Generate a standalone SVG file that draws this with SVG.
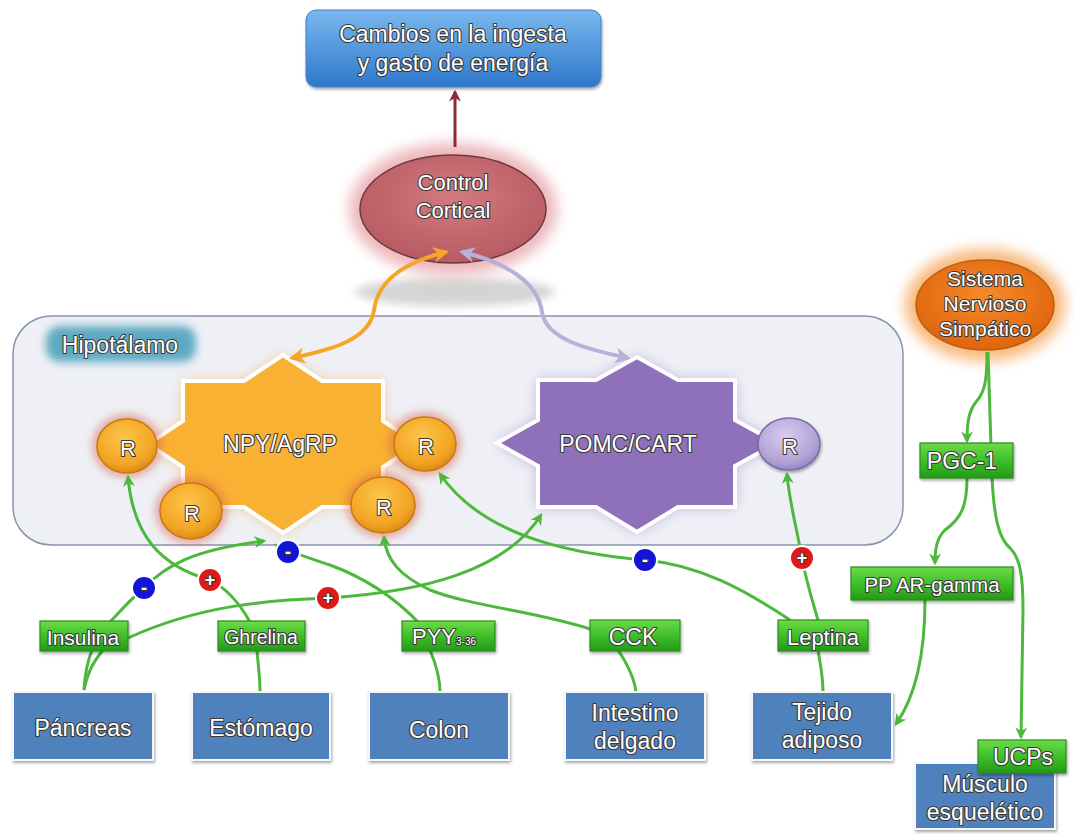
<svg xmlns="http://www.w3.org/2000/svg" width="1075" height="835" viewBox="0 0 1075 835">
<style>
.t{font-family:"Liberation Sans",Arial,sans-serif;fill:#fff;stroke:#3a3a3a;stroke-width:2.2;stroke-linejoin:round;paint-order:stroke;text-anchor:middle;dominant-baseline:central}
.g{fill:none;stroke:#4cb83c;stroke-width:3}
.org{fill:#4f81bd;stroke:#f4f6fa;stroke-width:2;filter:url(#sh)}
.hb{fill:url(#gg);stroke:#2c8a1e;stroke-width:1.2;filter:url(#sh)}
.rO{fill:url(#ro);stroke:#c87a12;stroke-width:1.5}
.sg{stroke:#fff;stroke-width:2}
</style>
<defs>
<linearGradient id="gg" x1="0" y1="0" x2="0" y2="1"><stop offset="0" stop-color="#6edb48"/><stop offset="0.5" stop-color="#3fbf2a"/><stop offset="1" stop-color="#239a16"/></linearGradient>
<linearGradient id="bt" x1="0" y1="0" x2="0" y2="1"><stop offset="0" stop-color="#7ab8ee"/><stop offset="1" stop-color="#2d78cc"/></linearGradient>
<radialGradient id="ro" cx="0.45" cy="0.35" r="0.7"><stop offset="0" stop-color="#fcc64a"/><stop offset="0.7" stop-color="#f3a423"/><stop offset="1" stop-color="#d48412"/></radialGradient>
<radialGradient id="rp" cx="0.45" cy="0.35" r="0.7"><stop offset="0" stop-color="#d8cdef"/><stop offset="0.7" stop-color="#b2a3d6"/><stop offset="1" stop-color="#8f7fbf"/></radialGradient>
<radialGradient id="cc" cx="0.5" cy="0.4" r="0.6"><stop offset="0" stop-color="#d27a80"/><stop offset="1" stop-color="#b85a62"/></radialGradient>
<radialGradient id="sn" cx="0.5" cy="0.4" r="0.6"><stop offset="0" stop-color="#f58a2a"/><stop offset="1" stop-color="#e0640c"/></radialGradient>
<filter id="glow" x="-30%" y="-30%" width="160%" height="160%"><feGaussianBlur stdDeviation="7"/></filter>
<filter id="blur3" x="-30%" y="-30%" width="160%" height="160%"><feGaussianBlur stdDeviation="4"/></filter>
<filter id="sh" x="-10%" y="-10%" width="130%" height="140%"><feDropShadow dx="1" dy="2" stdDeviation="1.5" flood-color="#000" flood-opacity="0.35"/></filter>
<marker id="ag" viewBox="0 0 10 10" refX="8" refY="5" markerWidth="4" markerHeight="4" orient="auto-start-reverse"><path d="M0,0 L10,5 L0,10 L3,5 Z" fill="#4cb83c"/></marker>
<marker id="ao" viewBox="0 0 10 10" refX="8" refY="5" markerWidth="4" markerHeight="4" orient="auto-start-reverse"><path d="M0,0 L10,5 L0,10 L3,5 Z" fill="#f5a628"/></marker>
<marker id="al" viewBox="0 0 10 10" refX="8" refY="5" markerWidth="4" markerHeight="4" orient="auto-start-reverse"><path d="M0,0 L10,5 L0,10 L3,5 Z" fill="#b9b0d9"/></marker>
<marker id="ar" viewBox="0 0 10 10" refX="8" refY="5" markerWidth="4" markerHeight="4" orient="auto-start-reverse"><path d="M0,0 L10,5 L0,10 L3,5 Z" fill="#8c2a3a"/></marker>
</defs>
<rect width="1075" height="835" fill="#fff"/>

<g id="hipotalamo">
<rect x="13" y="316" width="890" height="229" rx="38" fill="#eef0f6" stroke="#8793ad" stroke-width="1.5"/>
<rect x="46" y="326" width="150" height="36" rx="14" fill="#4fa2bd" filter="url(#blur3)" opacity="0.9"/>
<text class="t" x="120" y="345" font-size="23">Hipotálamo</text>
</g>

<ellipse cx="455" cy="292" rx="100" ry="14" fill="#b8b8b8" opacity="0.6" filter="url(#blur3)"/>

<g id="cambios">
<rect x="306" y="10" width="295" height="77" rx="10" fill="url(#bt)" stroke="#3f82c8" stroke-width="1" filter="url(#sh)"/>
<text class="t" x="453" y="34" font-size="23">Cambios en la ingesta</text>
<text class="t" x="453" y="63" font-size="23">y gasto de energía</text>
</g>

<g id="control-cortical">
<ellipse cx="453" cy="209" rx="104" ry="66" fill="#e8a4aa" opacity="0.8" filter="url(#glow)"/>
<ellipse cx="453" cy="209" rx="93" ry="54" fill="url(#cc)" stroke="#6a3a3e" stroke-width="1.5"/>
<text class="t" x="453" y="182" font-size="22">Control</text>
<text class="t" x="453" y="210" font-size="22">Cortical</text>
</g>

<g id="npy-agrp">
<polygon points="283,355 322,381 383,381 383,421 418,444 383,467 383,507 322,507 283,533 244,507 183,507 183,467 148,444 183,421 183,381 244,381" fill="#f7a845" opacity="0.6" filter="url(#glow)"/>
<polygon points="283,355 322,381 383,381 383,421 418,444 383,467 383,507 322,507 283,533 244,507 183,507 183,467 148,444 183,421 183,381 244,381" fill="#f8b133" stroke="#fff" stroke-width="4"/>
<text class="t" x="280" y="444" font-size="23">NPY/AgRP</text>
</g>

<g id="r-left">
<ellipse cx="127" cy="446" rx="35" ry="32" fill="#d9624a" opacity="0.5" filter="url(#blur3)"/>
<ellipse class="rO" cx="127" cy="446" rx="30" ry="27"/>
<text class="t" x="128" y="448" font-size="22">R</text>
</g>
<g id="r-bottom-left">
<ellipse cx="191" cy="511" rx="36" ry="33" fill="#d9624a" opacity="0.5" filter="url(#blur3)"/>
<ellipse class="rO" cx="191" cy="511" rx="31" ry="28"/>
<text class="t" x="192" y="513" font-size="22">R</text>
</g>
<g id="r-right">
<ellipse cx="425" cy="444" rx="36" ry="32" fill="#d9624a" opacity="0.5" filter="url(#blur3)"/>
<ellipse class="rO" cx="425" cy="444" rx="31" ry="27"/>
<text class="t" x="426" y="446" font-size="22">R</text>
</g>
<g id="r-bottom-right">
<ellipse cx="383" cy="505" rx="37" ry="33" fill="#d9624a" opacity="0.5" filter="url(#blur3)"/>
<ellipse class="rO" cx="383" cy="505" rx="32" ry="28"/>
<text class="t" x="384" y="507" font-size="22">R</text>
</g>

<g id="pomc-cart">
<polygon points="637,357 678,380 735,380 735,420 777,443 735,466 735,507 678,507 637,532 596,507 538,507 538,466 497,443 538,420 538,380 596,380" fill="#9b80c8" opacity="0.6" filter="url(#glow)"/>
<polygon points="637,357 678,380 735,380 735,420 777,443 735,466 735,507 678,507 637,532 596,507 538,507 538,466 497,443 538,420 538,380 596,380" fill="#8e70bb" stroke="#fff" stroke-width="4"/>
<text class="t" x="628" y="444" font-size="23">POMC/CART</text>
</g>
<g id="r-pomc">
<ellipse cx="789" cy="444" rx="31" ry="26" fill="url(#rp)" stroke="#7a6aa8" stroke-width="1.5" filter="url(#sh)"/>
<text class="t" x="790" y="446" font-size="22">R</text>
</g>

<g id="sistema-nervioso">
<ellipse cx="985" cy="305" rx="80" ry="56" fill="#f6a050" opacity="0.75" filter="url(#glow)"/>
<ellipse cx="985" cy="305" rx="69" ry="45" fill="url(#sn)" stroke="#b8620c" stroke-width="1.5"/>
<text class="t" x="985" y="278" font-size="21">Sistema</text>
<text class="t" x="985" y="303" font-size="21">Nervioso</text>
<text class="t" x="985" y="328" font-size="21">Simpático</text>
</g>

<g id="connectors">
<path d="M455,147 L455,92" fill="none" stroke="#8c2a3a" stroke-width="3" marker-end="url(#ar)"/>
<path d="M446,252 C405,262 378,280 374,310 C370,340 330,350 292,358" fill="none" stroke="#f5a628" stroke-width="4" marker-start="url(#ao)" marker-end="url(#ao)"/>
<path d="M462,252 C505,262 538,282 542,312 C546,340 590,350 628,358" fill="none" stroke="#b9b0d9" stroke-width="4" marker-start="url(#al)" marker-end="url(#al)"/>

<path class="g" d="M110,622 C125,606 134,596 144,588 C165,566 192,550 264,541" marker-end="url(#ag)"/>
<path class="g" d="M418,622 C395,598 365,578 330,565 C312,559 298,555 276,545" marker-end="url(#ag)"/>
<path class="g" d="M128,638 C200,605 270,600 328,598 C420,592 505,572 541,515" marker-end="url(#ag)"/>
<path class="g" d="M250,622 C240,604 226,588 210,580 C160,566 133,535 128,477" marker-end="url(#ag)"/>
<path class="g" d="M593,630 C540,612 470,606 430,590 C400,576 386,560 384,537" marker-end="url(#ag)"/>
<path class="g" d="M790,620 C745,590 700,565 645,560 C560,553 480,532 440,474" marker-end="url(#ag)"/>
<path class="g" d="M818,620 C812,600 806,580 802,558 C797,530 789,500 787,474" marker-end="url(#ag)"/>

<path class="g" d="M84,690 C85,672 88,660 92,650"/>
<path class="g" d="M84,690 C88,670 95,660 103,650"/>
<path class="g" d="M260,692 C260,676 258,664 257,650"/>
<path class="g" d="M440,692 C440,676 435,662 430,650"/>
<path class="g" d="M636,692 C634,676 626,662 618,650"/>
<path class="g" d="M823,692 C823,676 820,662 818,650"/>

<path class="g" d="M987,352 C987,380 985,392 976,402 C968,412 967,425 967,441" marker-end="url(#ag)"/>
<path class="g" d="M988,352 L992,478 C994,515 998,538 1010,548 C1020,558 1023,575 1023,610 L1021,737" marker-end="url(#ag)"/>
<path class="g" d="M967,478 C967,505 962,518 945,530 C937,538 935,548 935,563" marker-end="url(#ag)"/>
<path class="g" d="M925,600 C925,640 920,690 896,724" marker-end="url(#ag)"/>
</g>

<g id="signs">
<circle cx="144" cy="588" r="12" fill="#1414d8" class="sg"/><text class="t" x="144" y="588" font-size="18" font-weight="bold">-</text>
<circle cx="210" cy="580" r="12" fill="#e01818" class="sg"/><text class="t" x="210" y="580" font-size="18" font-weight="bold">+</text>
<circle cx="288" cy="552" r="12" fill="#1414d8" class="sg"/><text class="t" x="288" y="552" font-size="18" font-weight="bold">-</text>
<circle cx="328" cy="598" r="12" fill="#e01818" class="sg"/><text class="t" x="328" y="598" font-size="18" font-weight="bold">+</text>
<circle cx="645" cy="560" r="12" fill="#1414d8" class="sg"/><text class="t" x="645" y="560" font-size="18" font-weight="bold">-</text>
<circle cx="802" cy="558" r="12" fill="#e01818" class="sg"/><text class="t" x="802" y="558" font-size="18" font-weight="bold">+</text>
</g>

<g id="insulina"><rect class="hb" x="40" y="621" width="88" height="30"/><text class="t" x="83" y="637" font-size="21">Insulina</text></g>
<g id="ghrelina"><rect class="hb" x="218" y="621" width="87" height="30"/><text class="t" x="261" y="637" font-size="19.5">Ghrelina</text></g>
<g id="pyy"><rect class="hb" x="402" y="621" width="93" height="30"/><text class="t" x="444" y="636" font-size="22">PYY<tspan font-size="10" dy="5">3-36</tspan></text></g>
<g id="cck"><rect class="hb" x="590" y="620" width="90" height="31"/><text class="t" x="633" y="637" font-size="23">CCK</text></g>
<g id="leptina"><rect class="hb" x="778" y="620" width="90" height="31"/><text class="t" x="823" y="637" font-size="22">Leptina</text></g>
<g id="pgc1"><rect class="hb" x="920" y="443" width="93" height="35"/><text class="t" x="962" y="461" font-size="23">PGC-1</text></g>
<g id="ppar"><rect class="hb" x="851" y="567" width="162" height="33"/><text class="t" x="932" y="584" font-size="20.5">PP AR-gamma</text></g>

<g id="pancreas"><rect class="org" x="13" y="692" width="140" height="68"/><text class="t" x="83" y="728" font-size="23">Páncreas</text></g>
<g id="estomago"><rect class="org" x="192" y="692" width="138" height="68"/><text class="t" x="261" y="728" font-size="23">Estómago</text></g>
<g id="colon"><rect class="org" x="369" y="692" width="140" height="68"/><text class="t" x="439" y="730" font-size="23">Colon</text></g>
<g id="intestino"><rect class="org" x="565" y="692" width="140" height="68"/><text class="t" x="635" y="713" font-size="23">Intestino</text><text class="t" x="635" y="741" font-size="23">delgado</text></g>
<g id="tejido"><rect class="org" x="752" y="692" width="140" height="68"/><text class="t" x="822" y="712" font-size="23">Tejido</text><text class="t" x="822" y="740" font-size="23">adiposo</text></g>
<g id="musculo"><rect class="org" x="915" y="763" width="140" height="66"/><text class="t" x="985" y="784" font-size="23">Músculo</text><text class="t" x="985" y="812" font-size="23">esquelético</text></g>
<g id="ucps"><rect class="hb" x="978" y="740" width="88" height="33"/><text class="t" x="1023" y="757" font-size="23">UCPs</text></g>
</svg>
